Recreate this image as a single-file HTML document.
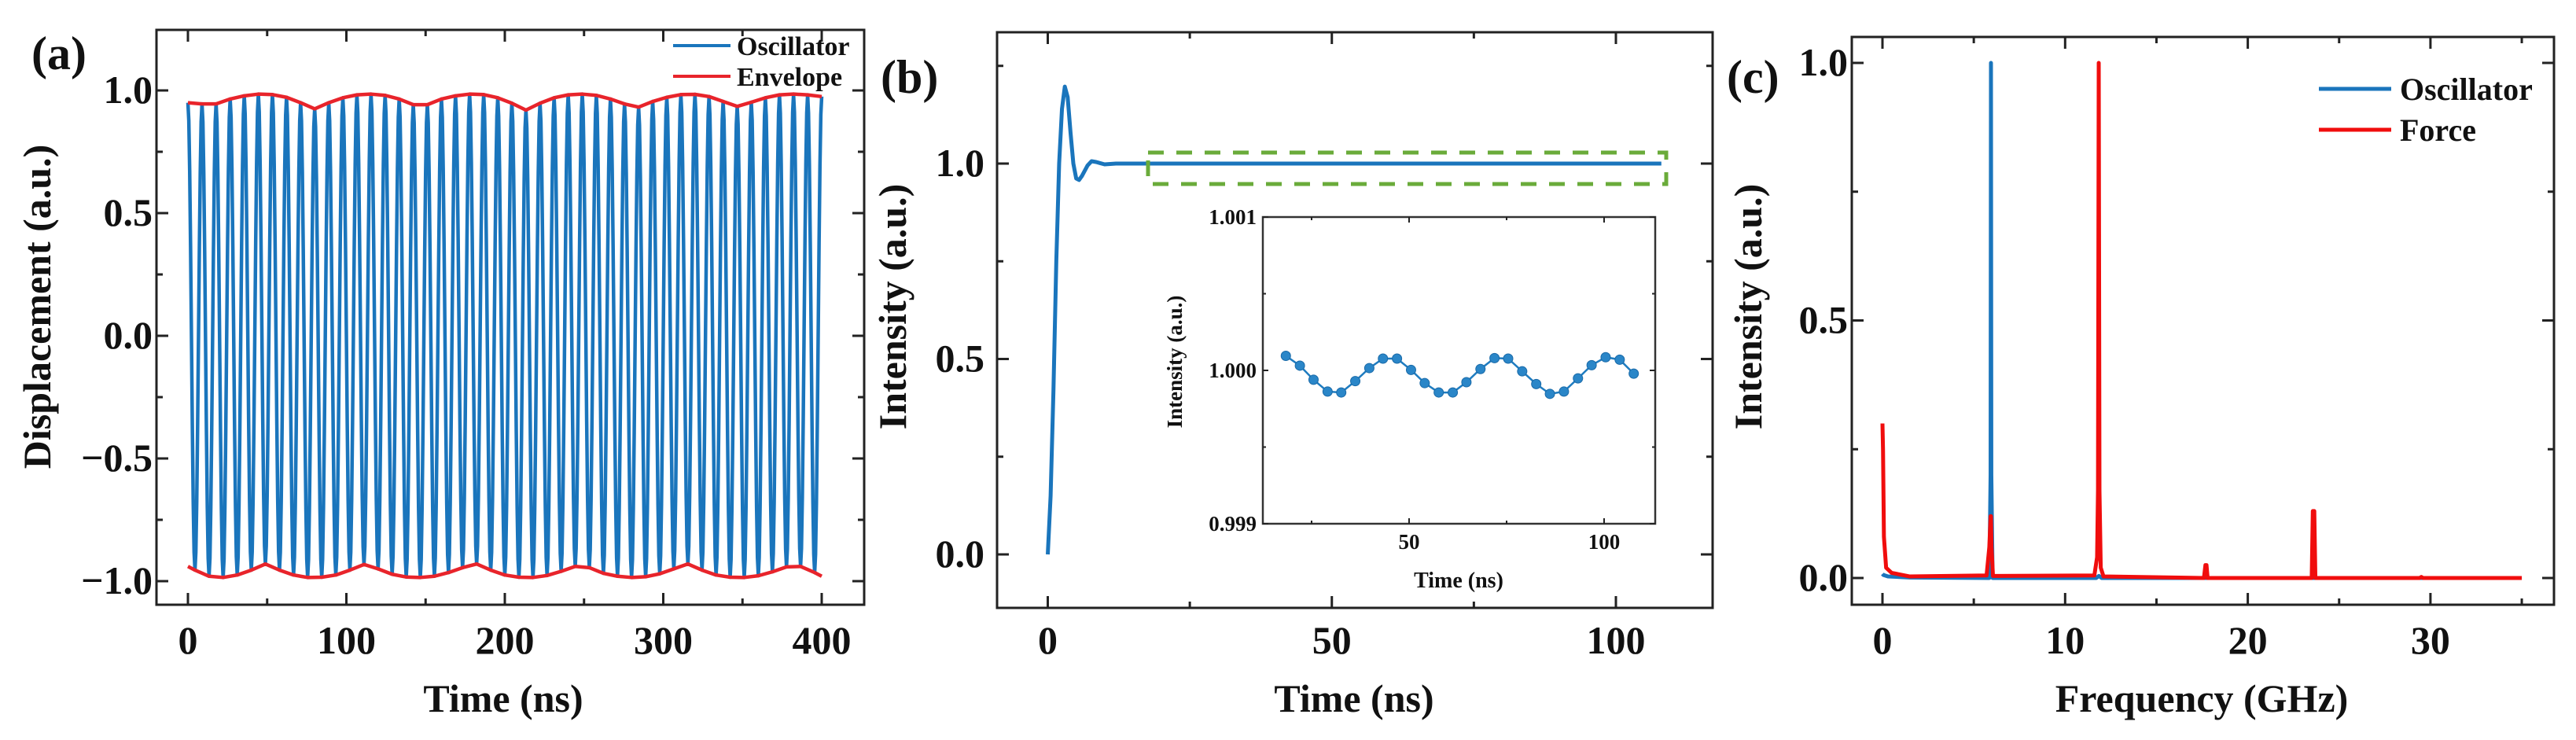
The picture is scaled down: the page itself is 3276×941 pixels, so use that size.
<!DOCTYPE html>
<html><head><meta charset="utf-8">
<style>
html,body{margin:0;padding:0;background:#fff;}
svg{display:block;}
text{font-family:"Liberation Serif","DejaVu Serif",serif;font-weight:bold;fill:#111;}
</style></head>
<body>
<svg id="fig" width="3276" height="941" viewBox="0 0 3276 941" xmlns="http://www.w3.org/2000/svg">
  <g id="pa"></g>
  <g id="pb"></g>
  <g id="pc"></g>
</svg>
<script>
// ---------- Panel (a) data ----------
const aXTicks = [0,100,200,300,400];
const aYTicks = [-1.0,-0.5,0.0,0.5,1.0];
const aYTickLabels = ["\u22121.0","\u22120.5","0.0","0.5","1.0"];
const aPeriod = 400/45;
const oscPeaks = [0.95,0.945,0.945,0.965,0.978,0.985,0.983,0.972,0.95,0.925,0.95,0.97,0.982,0.985,0.98,0.965,0.942,0.942,0.965,0.978,0.985,0.983,0.97,0.948,0.92,0.948,0.97,0.982,0.985,0.98,0.965,0.945,0.932,0.955,0.972,0.983,0.984,0.975,0.955,0.935,0.952,0.97,0.982,0.985,0.982,0.975];
const oscTroughs = [-0.955,-0.98,-0.985,-0.975,-0.955,-0.93,-0.955,-0.975,-0.985,-0.984,-0.975,-0.955,-0.932,-0.95,-0.972,-0.983,-0.985,-0.98,-0.965,-0.945,-0.93,-0.955,-0.975,-0.984,-0.985,-0.977,-0.96,-0.94,-0.945,-0.968,-0.98,-0.985,-0.982,-0.97,-0.95,-0.93,-0.955,-0.975,-0.984,-0.985,-0.978,-0.962,-0.942,-0.94,-0.965];
const envLowerStart = -0.94, envLowerEnd = -0.98;

// ---------- Panel (b) data ----------
const bXTicks = [0,50,100];
const bYTicks = [0.0,0.5,1.0];
const bTime = [0,0.5,1,1.5,2,2.5,3,3.5,4,4.5,5,5.5,6,7,7.7,8.5,10,12,15,108];
const bIntensity = [0,0.15,0.42,0.75,1.0,1.14,1.197,1.17,1.08,1.0,0.962,0.958,0.968,0.995,1.006,1.004,0.998,1.0,1.0,1.0];
const insetXTicks = [50,100];
const insetYTicks = [0.999,1.000,1.001];
const insetYTickLabels = ["0.999","1.000","1.001"];
const insetTime = [18.4,22,25.5,29.1,32.6,36.2,39.8,43.3,46.9,50.5,54,57.6,61.2,64.7,68.3,71.9,75.4,79,82.6,86.1,89.7,93.3,96.8,100.4,104,107.6];
const insetVal = [1.000095,1.000031,0.999939,0.999862,0.999856,0.99993,1.000015,1.000077,1.000077,1.000003,0.999917,0.999856,0.999856,0.999923,1.000009,1.00008,1.000077,0.999994,0.999911,0.999847,0.999862,0.999948,1.000034,1.000086,1.00007,0.999979];

// ---------- Panel (c) data ----------
const cXTicks = [0,10,20,30];
const cYTicks = [0.0,0.5,1.0];
const cOscFreq = [0,0.05,0.3,1.5,5.85,5.92,5.94,5.96,6.03,11.7,11.85,12.0,35.0];
const cOscAmp  = [0.008,0.006,0.003,0.001,0.0,0.2,1.0,0.2,0.0,0.0,0.004,0.0,0.0];
const cForceFreq = [0,0.03,0.08,0.2,0.5,1.5,5.7,5.85,5.92,5.94,5.97,6.05,11.6,11.75,11.8,11.84,11.88,11.95,12.1,17.6,17.68,17.74,17.8,23.5,23.56,23.64,23.7,29.4,29.5,29.6,35.0];
const cForceAmp  = [0.3,0.25,0.08,0.02,0.01,0.003,0.005,0.06,0.12,0.12,0.06,0.004,0.005,0.04,0.17,1.0,0.17,0.02,0.003,0.0,0.025,0.025,0.0,0.0,0.13,0.13,0.0,0.0,0.002,0.0,0.0];

const NS = "http://www.w3.org/2000/svg";
function mk(tag, parent, attrs){ const e=document.createElementNS(NS,tag); for(const k in attrs) e.setAttribute(k,attrs[k]); parent.appendChild(e); return e; }
function lin(d0,d1,r0,r1){ return v => r0 + (v-d0)*(r1-r0)/(d1-d0); }

function frame(g, L,T,R,B, sw){
  const f = mk('rect', g, {x:L,y:T,width:R-L,height:B-T,fill:'none',stroke:'#222','stroke-width':sw});
  
  
}
function xTicks(g, xs, vals, T,B, len, sw){
  vals.forEach(v=>{
    const x=xs(v);
    const t1=mk('line',g,{x1:x,y1:B,x2:x,y2:B-len,stroke:'#222','stroke-width':sw});
    
    
    const t2=mk('line',g,{x1:x,y1:T,x2:x,y2:T+len,stroke:'#222','stroke-width':sw});
    
    
  });
}
function yTicks(g, ys, vals, L,R, len, sw){
  vals.forEach(v=>{
    const y=ys(v);
    const t1=mk('line',g,{x1:L,y1:y,x2:L+len,y2:y,stroke:'#222','stroke-width':sw});
    
    
    const t2=mk('line',g,{x1:R,y1:y,x2:R-len,y2:y,stroke:'#222','stroke-width':sw});
    
    
  });
}
function txt(g, x,y, s, size, anchor, name, rot){
  const t=mk('text',g,{x:x,y:y,'font-size':size,'text-anchor':anchor||'middle'});
  if(rot) t.setAttribute('transform','rotate(-90 '+x+' '+y+')');
  t.textContent=s;
  
  
  return t;
}
function range(a,b,step){ const r=[]; for(let v=a; v<=b+1e-9; v+=step) r.push(+v.toFixed(6)); return r; }
function pathFrom(pts){ return pts.map((p,i)=>(i?'L':'M')+p[0].toFixed(2)+' '+p[1].toFixed(2)).join(''); }

// ===== Panel (a) =====
(function(){
  const g=document.getElementById('pa');
  const L=199,T=38,R=1099,B=769;
  const xs=lin(0,400,239,1045), ys=lin(0,1,427,115);
  const ext=[];
  for(let k=0;k<oscPeaks.length;k++){
    ext.push([k*aPeriod, oscPeaks[k]]);
    if(k<oscTroughs.length) ext.push([(k+0.5)*aPeriod, oscTroughs[k]]);
  }
  const pts=[];
  for(let i=0;i<ext.length-1;i++){
    const [t0,v0]=ext[i],[t1,v1]=ext[i+1];
    for(let s=0;s<8;s++){ const u=s/8; const w=(1-Math.cos(Math.PI*u))/2; pts.push([xs(t0+(t1-t0)*u), ys(v0+(v1-v0)*w)]); }
  }
  pts.push([xs(ext[ext.length-1][0]), ys(ext[ext.length-1][1])]);
  const osc=mk('path',g,{d:pathFrom(pts),fill:'none',stroke:'#1a75bc','stroke-width':4.5,'stroke-linejoin':'round'});
  
  
  const up=oscPeaks.map((v,k)=>[xs(k*aPeriod), ys(v)]);
  const lowPts=[[xs(0),ys(envLowerStart)]].concat(oscTroughs.map((v,k)=>[xs((k+0.5)*aPeriod), ys(v)])).concat([[xs(400),ys(envLowerEnd)]]);
  const e1=mk('path',g,{d:pathFrom(up),fill:'none',stroke:'#e8242b','stroke-width':4.5,'stroke-linejoin':'round'});
  
  
  const e2=mk('path',g,{d:pathFrom(lowPts),fill:'none',stroke:'#e8242b','stroke-width':4.5,'stroke-linejoin':'round'});
  
  
  frame(g,L,T,R,B,3);
  xTicks(g,xs,aXTicks,T,B,15,3); xTicks(g,xs,range(50,350,100),T,B,8,3);
  yTicks(g,ys,aYTicks,L,R,15,3); yTicks(g,ys,range(-0.75,0.75,0.5),L,R,8,3);
  aXTicks.forEach(v=>txt(g,xs(v),831,String(v),50,'middle','x-tick-label'));
  aYTicks.forEach((v,i)=>txt(g,194,ys(v)+16,aYTickLabels[i],50,'end','y-tick-label'));
  txt(g,640,905,'Time (ns)',50,'middle','x-axis-title');
  txt(g,64,390,'Displacement (a.u.)',50,'middle','y-axis-title',true);
  txt(g,40,88,'(a)',60,'start','panel-label-a');
  const l1=mk('line',g,{x1:856,y1:58,x2:929,y2:58,stroke:'#1a75bc','stroke-width':4});
  
  
  txt(g,937,70,'Oscillator',34,'start','legend-oscillator-label');
  const l2=mk('line',g,{x1:856,y1:97,x2:929,y2:97,stroke:'#e8242b','stroke-width':4});
  
  
  txt(g,937,109,'Envelope',34,'start','legend-envelope-label');
})();

// ===== Panel (b) =====
(function(){
  const g=document.getElementById('pb');
  const L=1268,T=41,R=2178,B=773;
  const xs=lin(0,100,1332.5,2055), ys=lin(0,1,705,208);
  const pts=bTime.map((t,i)=>[xs(t),ys(bIntensity[i])]);
  const ln=mk('path',g,{d:pathFrom(pts),fill:'none',stroke:'#1a75bc','stroke-width':5,'stroke-linejoin':'round'});
  
  
  const zr=mk('rect',g,{x:1460,y:194,width:659,height:40,fill:'none',stroke:'#6aab3a','stroke-width':5,'stroke-dasharray':'20 16'});
  
  
  frame(g,L,T,R,B,3);
  xTicks(g,xs,bXTicks,T,B,15,3); xTicks(g,xs,[25,75],T,B,8,3);
  yTicks(g,ys,bYTicks,L,R,15,3); yTicks(g,ys,[0.25,0.75,1.25],L,R,8,3);
  bXTicks.forEach(v=>txt(g,xs(v),831,String(v),50,'middle','x-tick-label'));
  bYTicks.forEach(v=>txt(g,1252,ys(v)+16,v.toFixed(1),50,'end','y-tick-label'));
  txt(g,1722,905,'Time (ns)',50,'middle','x-axis-title');
  txt(g,1152,390,'Intensity (a.u.)',50,'middle','y-axis-title',true);
  txt(g,1120,118,'(b)',60,'start','panel-label-b');
  const ig=mk('g',g,{});
  
  
  const iL=1606,iT=276,iR=2105,iB=666;
  const ixs=lin(50,100,1792,2040), iys=lin(0.999,1.001,666,276);
  const ipts=insetTime.map((t,i)=>[ixs(t),iys(insetVal[i])]);
  const il=mk('path',ig,{d:pathFrom(ipts),fill:'none',stroke:'#1f7cc0','stroke-width':2.5});
  
  
  ipts.forEach(p=>{
    const c=mk('circle',ig,{cx:p[0],cy:p[1],r:6,fill:'#2a86c8',stroke:'#1a6aa8','stroke-width':1});
    
    
  });
  const fr=mk('rect',ig,{x:iL,y:iT,width:iR-iL,height:iB-iT,fill:'none',stroke:'#333','stroke-width':2.5});
  
  
  xTicks(ig,ixs,insetXTicks,iT,iB,7,2); xTicks(ig,ixs,[25,75],iT,iB,4,2);
  yTicks(ig,iys,insetYTicks,iL,iR,7,2); yTicks(ig,iys,[0.9995,1.0005],iL,iR,4,2);
  insetXTicks.forEach(v=>txt(ig,ixs(v),698,String(v),27,'middle','inset-x-tick-label'));
  insetYTicks.forEach((v,i)=>txt(ig,1598,iys(v)+9,insetYTickLabels[i],27,'end','inset-y-tick-label'));
  txt(ig,1855,747,'Time (ns)',28,'middle','inset-x-axis-title');
  txt(ig,1503,460,'Intensity (a.u.)',27,'middle','inset-y-axis-title',true);
})();

// ===== Panel (c) =====
(function(){
  const g=document.getElementById('pc');
  const L=2355,T=47,R=3248,B=769;
  const xs=lin(0,10,2394,2626.3), ys=lin(0,1,735,80);
  const p1=cOscFreq.map((f,i)=>[xs(f),ys(cOscAmp[i])]);
  const l1=mk('path',g,{d:pathFrom(p1),fill:'none',stroke:'#1a75bc','stroke-width':5,'stroke-linejoin':'round'});
  
  
  const p2=cForceFreq.map((f,i)=>[xs(f),ys(cForceAmp[i])]);
  const l2=mk('path',g,{d:pathFrom(p2),fill:'none',stroke:'#f00d0d','stroke-width':5,'stroke-linejoin':'round'});
  
  
  frame(g,L,T,R,B,3);
  xTicks(g,xs,cXTicks,T,B,15,3); xTicks(g,xs,[5,15,25,35],T,B,8,3);
  yTicks(g,ys,cYTicks,L,R,15,3); yTicks(g,ys,[0.25,0.75],L,R,8,3);
  cXTicks.forEach(v=>txt(g,xs(v),831,String(v),50,'middle','x-tick-label'));
  cYTicks.forEach(v=>txt(g,2350,ys(v)+16,v.toFixed(1),50,'end','y-tick-label'));
  txt(g,2800,905,'Frequency (GHz)',50,'middle','x-axis-title');
  txt(g,2240,390,'Intensity (a.u.)',50,'middle','y-axis-title',true);
  txt(g,2196,118,'(c)',60,'start','panel-label-c');
  const s1=mk('line',g,{x1:2949,y1:113,x2:3041,y2:113,stroke:'#1a75bc','stroke-width':5});
  
  
  txt(g,3052,127,'Oscillator',40,'start','legend-oscillator-label');
  const s2=mk('line',g,{x1:2949,y1:165,x2:3041,y2:165,stroke:'#f00d0d','stroke-width':5});
  
  
  txt(g,3052,179,'Force',40,'start','legend-force-label');
})();
</script>
</body></html>
